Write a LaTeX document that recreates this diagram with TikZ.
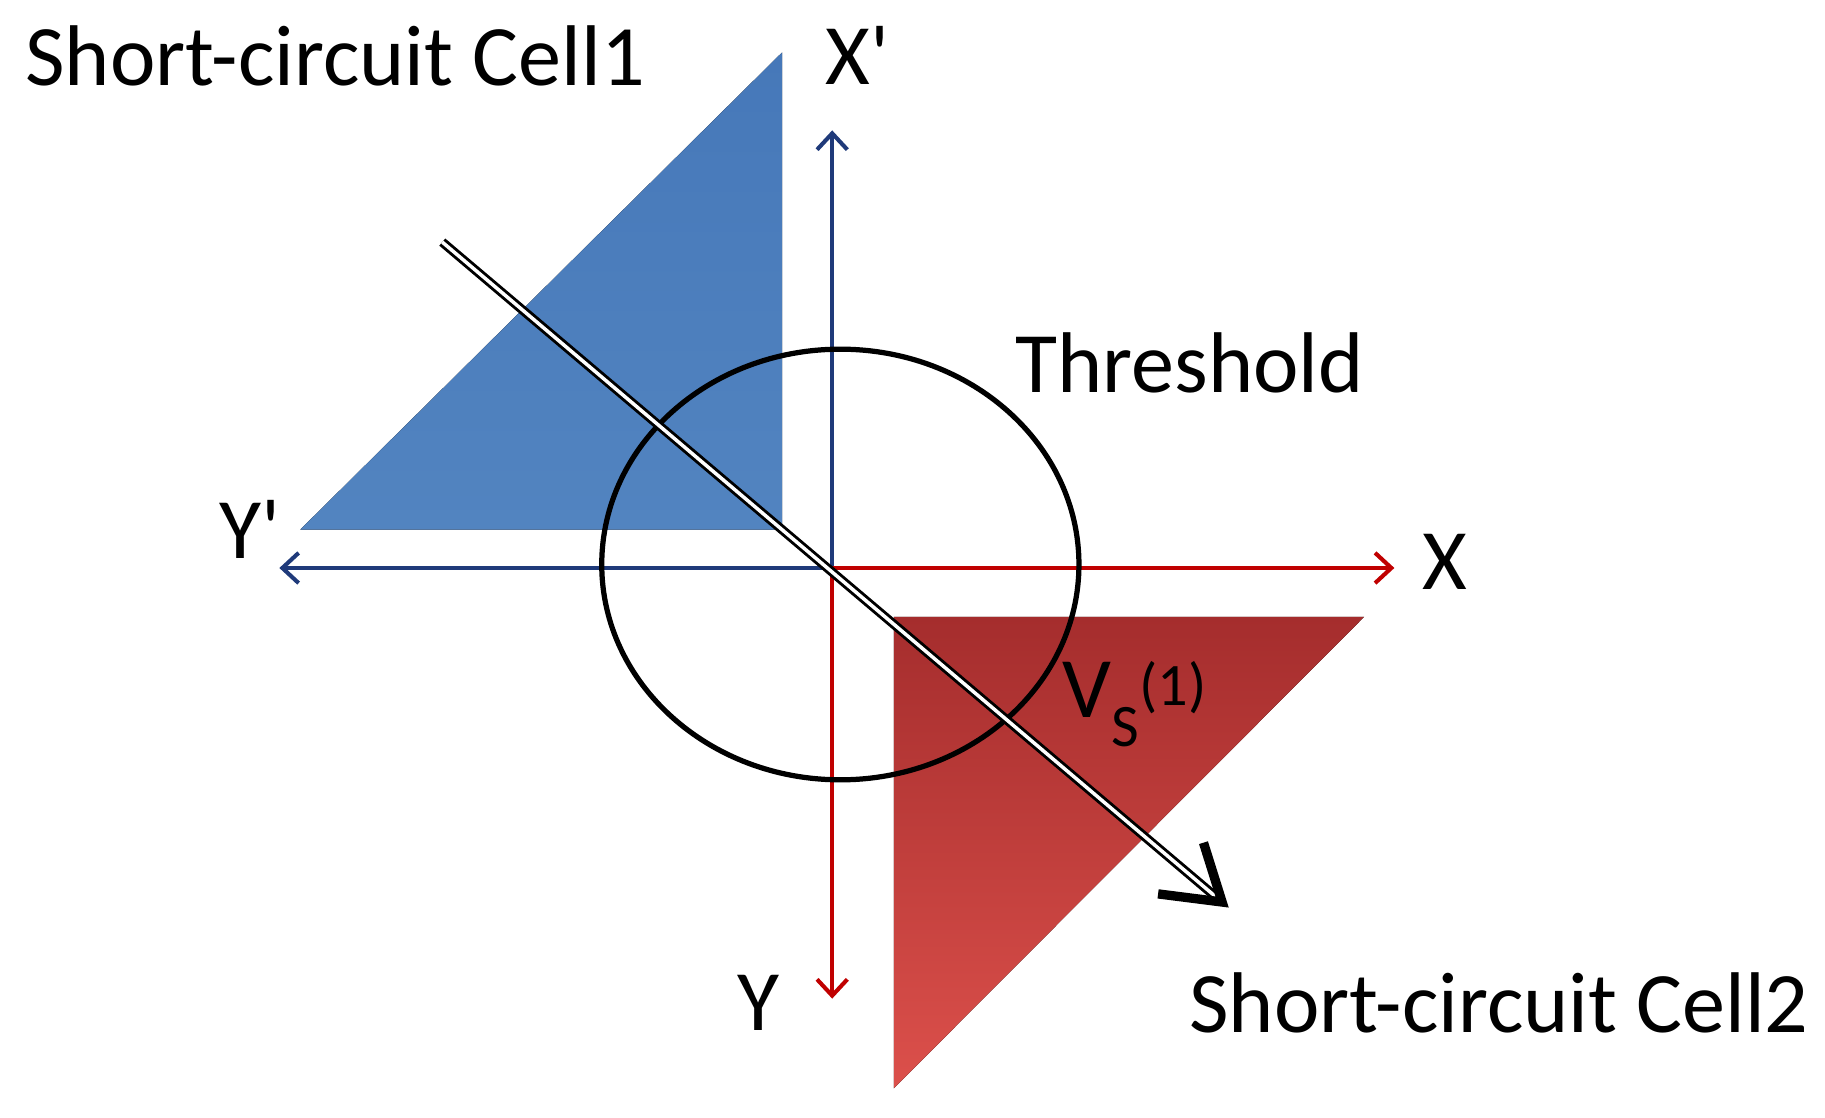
\documentclass[tikz,border=0pt]{standalone}
\usepackage{fontspec}
\setmainfont{Carlito}
\usetikzlibrary{arrows.meta}
\definecolor{axb}{HTML}{1F3A7A}
\definecolor{axr}{HTML}{C00000}
\begin{document}
\begin{tikzpicture}[x=1pt,y=-1pt,
  lab/.style={font=\fontsize{74}{76}\selectfont,inner sep=0pt},
  ax/.style={line width=3.5pt,-{Straight Barb[length=14pt,width=26pt,line width=3.5pt]}}]
\useasboundingbox (0,0) rectangle (1568,960);
\coordinate (O) at (715,488);
\fill[top color={rgb,255:red,70;green,120;blue,185}, bottom color={rgb,255:red,82;green,132;blue,192}] (258,455) -- (672,45) -- (672,455) -- cycle;
\fill[top color={rgb,255:red,165;green,45;blue,45}, bottom color={rgb,255:red,220;green,80;blue,75}] (768,530) -- (1172,530) -- (768,935) -- cycle;
\coordinate (XP) at (715,112);
\coordinate (YP) at (240,488);
\coordinate (XX) at (1198,488);
\coordinate (YY) at (715,858);
\draw[ax,axb] (O) -- (XP);
\draw[ax,axb] (O) -- (YP);
\draw[ax,axr] (O) -- (XX);
\draw[ax,axr] (O) -- (YY);
\draw[line width=4.5pt] (722,485) ellipse [x radius=205, y radius=185];
\coordinate (A) at (380,208);
\coordinate (B) at (1044,770);
\coordinate (H1) at (1034,724);
\coordinate (H2) at (995,768);
\draw[double=white,double distance=3pt,line width=2.5pt] (A) -- (B);
\draw[line width=8pt,line join=miter,line cap=butt] (H1) -- (1050,775) -- (H2);
\node[lab] (c1) at (288,48) {Short-circuit Cell1};
\node[lab] (xp) at (737,48) {X\textquotesingle};
\node[lab] (th) at (1022,312) {Threshold};
\node[lab] (yp) at (215,455) {Y\textquotesingle};
\node[lab] (x) at (1241,483) {X};
\node[lab] (vs) at (975,605) {V$_{\mathrm{S}}$\textsuperscript{(1)}};
\node[lab] (y) at (652,862) {Y};
\node[lab] (c2) at (1288,862) {Short-circuit Cell2};
\end{tikzpicture}
\end{document}
